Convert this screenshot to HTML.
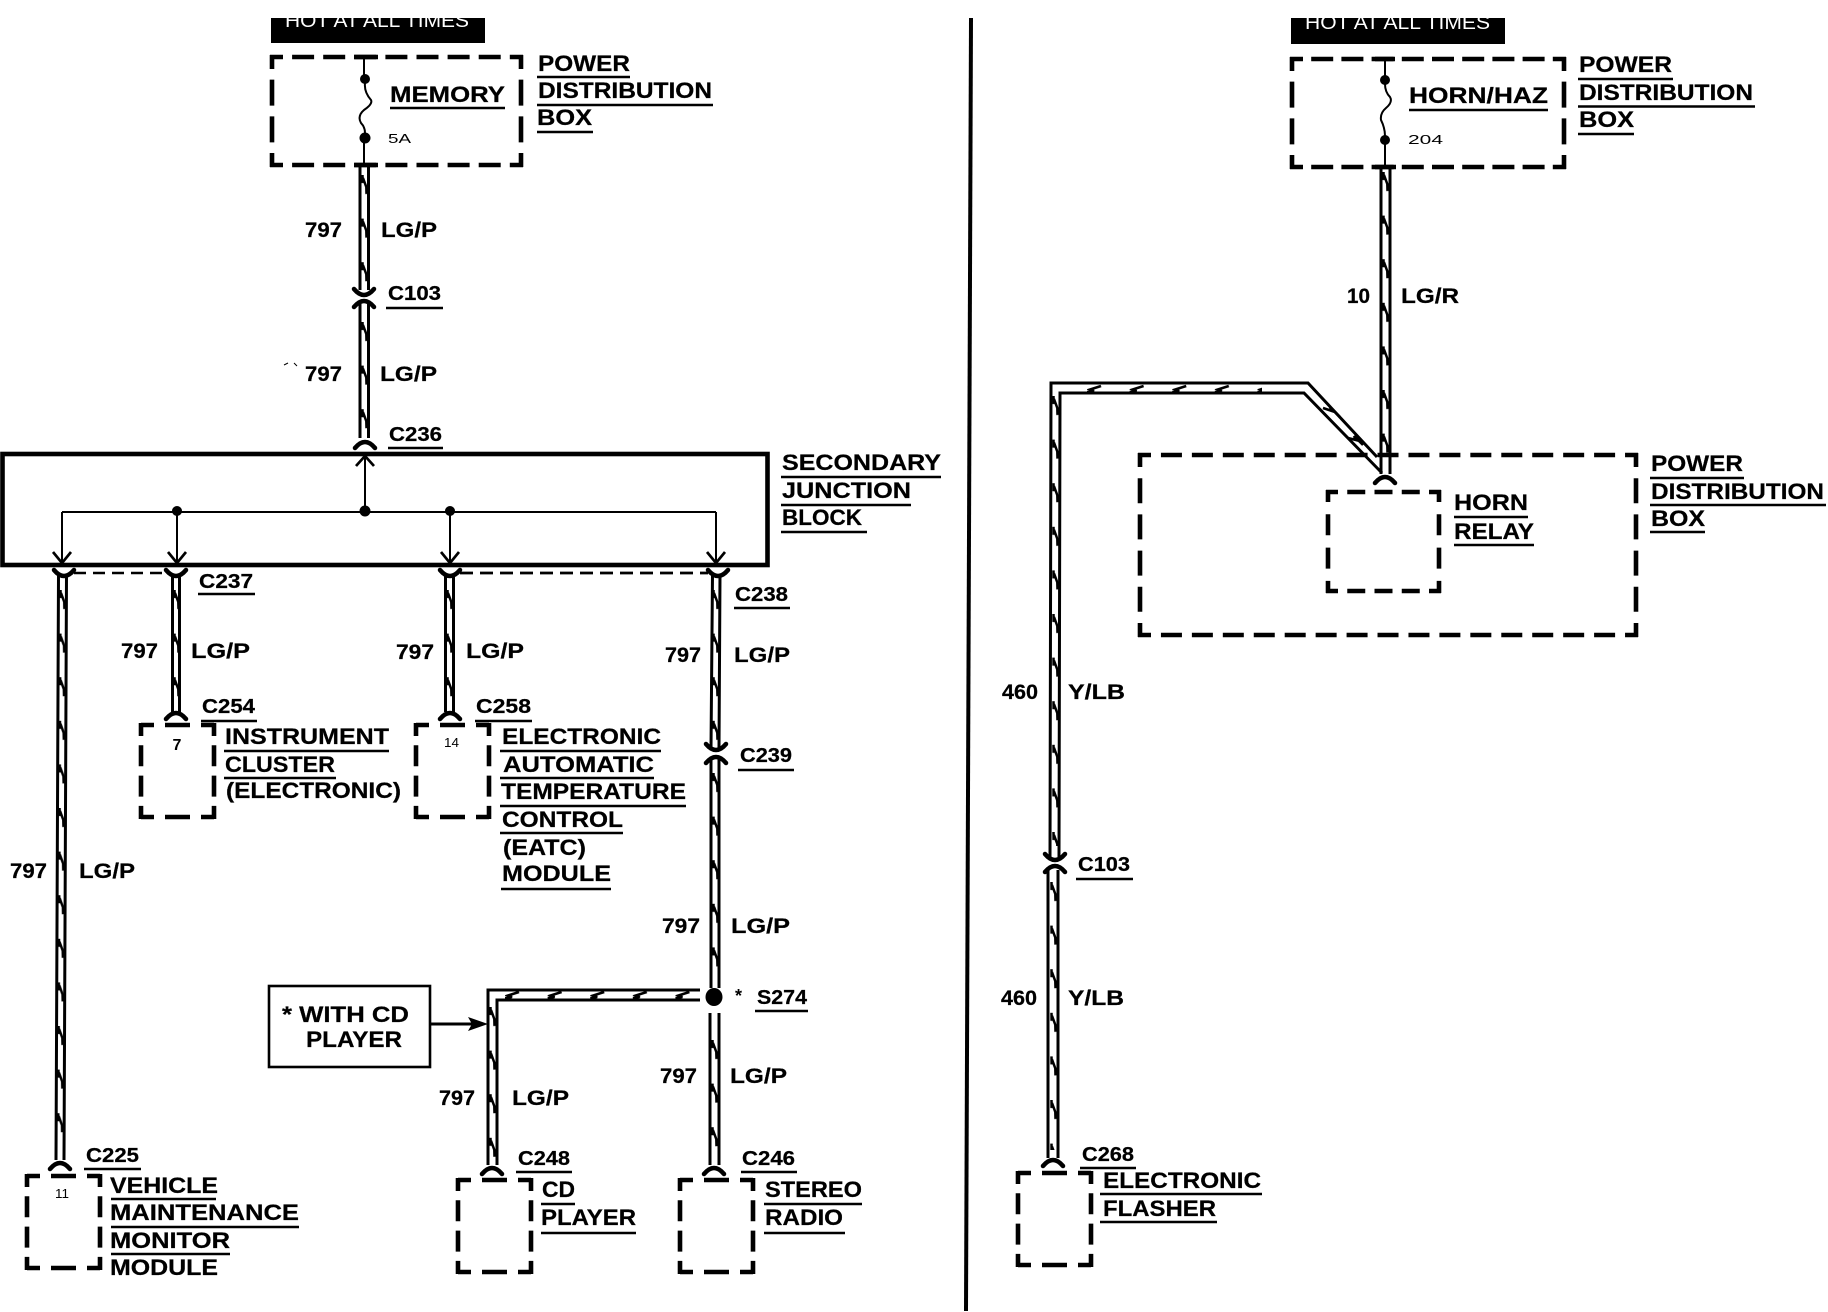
<!DOCTYPE html>
<html><head><meta charset="utf-8"><style>
html,body{margin:0;padding:0;background:#fff}
svg{display:block}
text{font-family:"Liberation Sans",Arial,sans-serif;font-weight:bold;fill:#000}
.a{font-size:22.5px;stroke:#000;stroke-width:.25}.c{font-size:20px;stroke:#000;stroke-width:.25}.n{font-size:21.5px;stroke:#000;stroke-width:.25}.s{font-size:13px;font-weight:normal}
.w{fill:#fff;font-weight:normal;font-size:19px}
.l{fill:none;stroke:#000;stroke-width:3}
.u{fill:none;stroke:#000;stroke-width:2.4}
.t{fill:none;stroke:#000;stroke-width:2}
.d{stroke:#000;stroke-width:4.6;fill:none}
.k{fill:none;stroke:#000;stroke-width:4.5;stroke-linecap:round}
</style></head><body>
<svg width="1828" height="1312" viewBox="0 0 1828 1312" xmlns="http://www.w3.org/2000/svg">
<defs>
<pattern id="v" width="12" height="43.6" patternUnits="userSpaceOnUse"><path d="M2.5 0 L2.6 8 L3 3 L6.3 12 L6.5 19" fill="none" stroke="#000" stroke-width="2.5"/></pattern>
<pattern id="h" width="42.6" height="12" patternUnits="userSpaceOnUse"><path d="M0 8 L7 7 L3 5.5 L14 2" fill="none" stroke="#000" stroke-width="2.5"/></pattern>
<path id="sm" class="k" d="M-10 -6 Q-5 0 0 0 Q5 0 10 -6"/>
<path id="fr" class="k" d="M-10 6 Q-5 0 0 0 Q5 0 10 6"/>
<g id="sb">
<line class="d" x1="0" y1="0" x2="73" y2="0" stroke-dasharray="25 11" stroke-dashoffset="12"/>
<line class="d" x1="0" y1="92" x2="73" y2="92" stroke-dasharray="25 11" stroke-dashoffset="12"/>
<line class="d" x1="0" y1="-2" x2="0" y2="94" stroke-dasharray="21 9.3" stroke-dashoffset="8"/>
<line class="d" x1="73" y1="-2" x2="73" y2="94" stroke-dasharray="21 9.3" stroke-dashoffset="8"/>
</g>
</defs>
<rect width="1828" height="1312" fill="#fff"/>

<!-- divider -->
<line x1="971" y1="18" x2="966" y2="1311" stroke="#000" stroke-width="4"/>

<!-- hot labels -->
<rect x="271" y="18" width="214" height="25" fill="#000"/>
<text class="w" x="285" y="27" textLength="184" lengthAdjust="spacingAndGlyphs">HOT AT ALL TIMES</text>
<rect x="1291" y="18" width="214" height="26" fill="#000"/>
<text class="w" x="1305" y="29" textLength="185" lengthAdjust="spacingAndGlyphs">HOT AT ALL TIMES</text>

<!-- memory box -->
<line class="d" x1="270" y1="57" x2="523" y2="57" stroke-dasharray="22 9.1" stroke-dashoffset="9"/>
<line class="d" x1="270" y1="165" x2="523" y2="165" stroke-dasharray="22 9.1" stroke-dashoffset="9"/>
<line class="d" x1="272" y1="55" x2="272" y2="167" stroke-dasharray="26 10.67" stroke-dashoffset="12"/>
<line class="d" x1="521" y1="55" x2="521" y2="167" stroke-dasharray="26 10.67" stroke-dashoffset="12"/>
<path class="d" d="M354 57H378M354 165H378"/>
<path class="t" d="M364 57V79M364 138V165"/>
<circle cx="365" cy="79" r="5"/><circle cx="365" cy="138" r="5.5"/>
<path class="t" d="M365 83 Q364 92 371 100 Q373 104 364 110 Q357 116 361 123 Q365 127 365 133"/>

<!-- horn box -->
<line class="d" x1="1290" y1="59" x2="1566" y2="59" stroke-dasharray="22 8.2" stroke-dashoffset="9"/>
<line class="d" x1="1290" y1="167" x2="1566" y2="167" stroke-dasharray="22 8.2" stroke-dashoffset="9"/>
<line class="d" x1="1292" y1="57" x2="1292" y2="169" stroke-dasharray="26 10.67" stroke-dashoffset="12"/>
<line class="d" x1="1564" y1="57" x2="1564" y2="169" stroke-dasharray="26 10.67" stroke-dashoffset="12"/>
<path class="d" d="M1375 59H1395M1375 167H1396"/>
<path class="t" d="M1385 59V80M1385 140V167"/>
<circle cx="1385" cy="80" r="5"/><circle cx="1385" cy="140" r="5"/>
<path class="t" d="M1385 84 Q1385 92 1390 97 Q1393 102 1386 108 Q1380 113 1381 120 Q1385 128 1385 136"/>

<!-- power distribution big box -->
<line class="d" x1="1138" y1="455" x2="1638" y2="455" stroke-dasharray="21 9.94" stroke-dashoffset="8"/>
<line class="d" x1="1138" y1="635" x2="1638" y2="635" stroke-dasharray="21 9.94" stroke-dashoffset="8"/>
<line class="d" x1="1140" y1="453" x2="1140" y2="637" stroke-dasharray="25 11.2" stroke-dashoffset="11"/>
<line class="d" x1="1636" y1="453" x2="1636" y2="637" stroke-dasharray="25 11.2" stroke-dashoffset="11"/>

<!-- horn relay box -->
<line class="d" x1="1326" y1="492" x2="1441" y2="492" stroke-dasharray="18 9.25" stroke-dashoffset="6"/>
<line class="d" x1="1326" y1="591" x2="1441" y2="591" stroke-dasharray="18 9.25" stroke-dashoffset="6"/>
<line class="d" x1="1328" y1="490" x2="1328" y2="593" stroke-dasharray="21 12.3" stroke-dashoffset="9"/>
<line class="d" x1="1439" y1="490" x2="1439" y2="593" stroke-dasharray="21 12.3" stroke-dashoffset="9"/>

<!-- small boxes -->
<use href="#sb" x="141" y="725"/>
<use href="#sb" x="416" y="725"/>
<use href="#sb" x="27" y="1176"/>
<use href="#sb" x="458" y="1180"/>
<use href="#sb" x="680" y="1180"/>
<use href="#sb" x="1018" y="1173"/>

<!-- junction block -->
<rect x="2.5" y="454" width="765" height="111" fill="none" stroke="#000" stroke-width="4.6"/>
<path class="t" d="M62 512H716M62 512V562M177 512V562M450 512V562M716 512V562M365 512V457"/>
<path class="t" style="stroke-width:2.7" d="M53 552L62 563L71 552M168 552L177 563L186 552M441 552L450 563L459 552M707 552L716 563L725 552M356 466L365 456L374 466"/>
<circle cx="177" cy="511" r="5"/><circle cx="365" cy="511" r="5.5"/><circle cx="450" cy="511" r="5"/>

<!-- dashed between connectors -->
<line x1="74" y1="573" x2="168" y2="573" stroke="#000" stroke-width="2.4" stroke-dasharray="12 7"/>
<line x1="460" y1="573" x2="708" y2="573" stroke="#000" stroke-width="2.8" stroke-dasharray="13 7"/>

<!-- wires -->
<path class="l" d="M360 167V290M368.500 167V290M360 303V438M368.500 303V438"/>
<g transform="translate(360,175)"><rect width="8" height="113" fill="url(#v)"/></g>
<g transform="translate(360,322)"><rect width="8" height="112" fill="url(#v)"/></g>

<path class="l" d="M58.500 575L56 1160M66.500 575L64 1160"/>
<g transform="matrix(1 0 -0.0043 1 58 590)"><rect width="8" height="560" fill="url(#v)"/></g>

<path class="l" d="M172.500 575V712M179.500 575V712M445.500 575V712M453.500 575V712"/>
<g transform="translate(172,590)"><rect width="8" height="115" fill="url(#v)"/></g>
<g transform="translate(445,590)"><rect width="8" height="115" fill="url(#v)"/></g>

<path class="l" d="M712.500 575L711 748M720 575L719 748M711 759V988M719 759V988M710 1013V1165M719 1013V1165"/>
<g transform="translate(711,590)"><rect width="8" height="155" fill="url(#v)"/></g>
<g transform="translate(711,773)"><rect width="8" height="205" fill="url(#v)"/></g>
<g transform="translate(710,1040)"><rect width="8" height="115" fill="url(#v)"/></g>

<path class="l" d="M488 1165V990H700M497 1165V1000H700"/>
<g transform="translate(488,1007)"><rect width="8" height="150" fill="url(#v)"/></g>
<g transform="translate(505,990)"><rect width="190" height="12" fill="url(#h)"/></g>
<ellipse cx="714" cy="997" rx="8.5" ry="9"/>

<path class="l" d="M1381 167V474M1390 167V474"/>
<g transform="translate(1381,172)"><rect width="8" height="290" fill="url(#v)"/></g>

<path class="l" d="M1050 858L1051 383H1308L1377 457M1059 858L1060 393H1304L1382 473"/>
<g transform="translate(1051,396)"><rect width="8" height="450" fill="url(#v)"/></g>
<g transform="translate(1087,384)"><rect width="175" height="12" fill="url(#h)"/></g>
<path class="t" style="stroke-width:2.6" d="M1323 408L1332 411L1330 407L1340 417M1348 438L1356 440L1354 436L1363 445"/>

<path class="l" d="M1048 870V1158M1058 870V1158"/>
<g transform="translate(1049,882)"><rect width="8" height="268" fill="url(#v)"/></g>

<!-- connectors -->
<use href="#sm" x="364" y="295"/><use href="#fr" x="364" y="301"/>
<use href="#fr" x="365" y="442"/>
<use href="#sm" x="64" y="576"/><use href="#sm" x="176" y="576"/><use href="#sm" x="450" y="576"/><use href="#sm" x="718" y="576"/>
<use href="#fr" x="176" y="713"/><use href="#fr" x="450" y="713"/>
<use href="#sm" x="716" y="750"/><use href="#fr" x="716" y="757"/>
<use href="#fr" x="60" y="1163"/><use href="#fr" x="492" y="1168"/><use href="#fr" x="714" y="1168"/>
<use href="#fr" x="1053" y="1160"/>
<use href="#sm" x="1055" y="860"/><use href="#fr" x="1055" y="866"/>
<use href="#fr" x="1385" y="477"/>

<!-- with CD box -->
<rect x="269" y="986" width="161" height="81" fill="none" stroke="#000" stroke-width="2.6"/>
<path class="l" d="M430 1024H475"/><path d="M488 1024L468 1017L472 1024L468 1031Z"/>

<!-- underlines -->
<path class="u" d="M390 108H505M537 77H630M537 105H713M537 132H593M386 308H443M388 448H443M198 594H255M734 608H790M201 721H257M475 721H532M224 751H389M224 778H336M500 751H661M500 778H654M500 806H686M500 833H623M501 889H611M738 770H794M84 1169H141M111 1199H216M111 1227H299M111 1254H230M516 1172H572M741 1172H797M541 1204H575M541 1233H636M764 1204H862M764 1233H845M755 1011H808"/>
<path class="u" d="M1409 110H1548M1578 79H1673M1578 106.500H1755M1578 134H1634M1454 517H1528M1454 545H1534M1650 478H1744M1650 505H1826M1650 532H1705M1076 879H1133M1080 1168H1136M1100 1194H1262M1100 1222H1217"/>

<!-- left labels -->
<text class="a" x="390" y="102" textLength="115" lengthAdjust="spacingAndGlyphs">MEMORY</text>
<text class="s" x="388" y="143" textLength="23" lengthAdjust="spacingAndGlyphs">5A</text>
<text class="a" x="538" y="71" textLength="92" lengthAdjust="spacingAndGlyphs">POWER</text>
<text class="a" x="538" y="98" textLength="174" lengthAdjust="spacingAndGlyphs">DISTRIBUTION</text>
<text class="a" x="537" y="125" textLength="55" lengthAdjust="spacingAndGlyphs">BOX</text>
<text class="n" x="305" y="237" textLength="37" lengthAdjust="spacingAndGlyphs">797</text>
<text class="n" x="381" y="237" textLength="56" lengthAdjust="spacingAndGlyphs">LG/P</text>
<text class="c" x="388" y="300" textLength="53" lengthAdjust="spacingAndGlyphs">C103</text>
<text class="n" x="305" y="381" textLength="37" lengthAdjust="spacingAndGlyphs">797</text>
<text class="n" x="380" y="381" textLength="57" lengthAdjust="spacingAndGlyphs">LG/P</text>
<text class="c" x="389" y="441" textLength="53" lengthAdjust="spacingAndGlyphs">C236</text>
<path class="t" style="stroke-width:1" d="M284 365L288 363M294 363L297 366"/>

<text class="a" x="782" y="470" textLength="159" lengthAdjust="spacingAndGlyphs">SECONDARY</text>
<text class="a" x="782" y="498" textLength="129" lengthAdjust="spacingAndGlyphs">JUNCTION</text>
<text class="a" x="782" y="525" textLength="80" lengthAdjust="spacingAndGlyphs">BLOCK</text>
<path class="u" d="M781 477H941M781 505H911M781 532H867"/>

<text class="c" x="199" y="588" textLength="54" lengthAdjust="spacingAndGlyphs">C237</text>
<text class="c" x="735" y="601" textLength="53" lengthAdjust="spacingAndGlyphs">C238</text>
<text class="n" x="121" y="658" textLength="37" lengthAdjust="spacingAndGlyphs">797</text>
<text class="n" x="191" y="658" textLength="59" lengthAdjust="spacingAndGlyphs">LG/P</text>
<text class="n" x="396" y="659" textLength="38" lengthAdjust="spacingAndGlyphs">797</text>
<text class="n" x="466" y="658" textLength="58" lengthAdjust="spacingAndGlyphs">LG/P</text>
<text class="n" x="665" y="662" textLength="36" lengthAdjust="spacingAndGlyphs">797</text>
<text class="n" x="734" y="662" textLength="56" lengthAdjust="spacingAndGlyphs">LG/P</text>
<text class="c" x="202" y="713" textLength="53" lengthAdjust="spacingAndGlyphs">C254</text>
<text class="c" x="476" y="713" textLength="55" lengthAdjust="spacingAndGlyphs">C258</text>
<text x="172.500" y="750" style="font-size:16px">7</text>
<text class="s" x="444" y="747" textLength="15" lengthAdjust="spacingAndGlyphs">14</text>
<text class="a" x="225" y="744" textLength="164" lengthAdjust="spacingAndGlyphs">INSTRUMENT</text>
<text class="a" x="225" y="772" textLength="110" lengthAdjust="spacingAndGlyphs">CLUSTER</text>
<text class="a" x="226" y="798" textLength="175" lengthAdjust="spacingAndGlyphs">(ELECTRONIC)</text>
<text class="a" x="502" y="744" textLength="159" lengthAdjust="spacingAndGlyphs">ELECTRONIC</text>
<text class="a" x="503" y="772" textLength="151" lengthAdjust="spacingAndGlyphs">AUTOMATIC</text>
<text class="a" x="501" y="799" textLength="185" lengthAdjust="spacingAndGlyphs">TEMPERATURE</text>
<text class="a" x="502" y="827" textLength="121" lengthAdjust="spacingAndGlyphs">CONTROL</text>
<text class="a" x="503" y="855" textLength="83" lengthAdjust="spacingAndGlyphs">(EATC)</text>
<text class="a" x="502" y="881" textLength="109" lengthAdjust="spacingAndGlyphs">MODULE</text>
<text class="c" x="740" y="762" textLength="52" lengthAdjust="spacingAndGlyphs">C239</text>
<text class="n" x="10" y="878" textLength="37" lengthAdjust="spacingAndGlyphs">797</text>
<text class="n" x="79" y="878" textLength="56" lengthAdjust="spacingAndGlyphs">LG/P</text>
<text class="n" x="662" y="933" textLength="38" lengthAdjust="spacingAndGlyphs">797</text>
<text class="n" x="731" y="933" textLength="59" lengthAdjust="spacingAndGlyphs">LG/P</text>

<text class="a" x="282" y="1022" textLength="127" lengthAdjust="spacingAndGlyphs">* WITH CD</text>
<text class="a" x="306" y="1047" textLength="96" lengthAdjust="spacingAndGlyphs">PLAYER</text>
<text x="735" y="1002" style="font-size:18px">*</text>
<text class="c" x="757" y="1004" textLength="50" lengthAdjust="spacingAndGlyphs">S274</text>
<text class="n" x="439" y="1105" textLength="36" lengthAdjust="spacingAndGlyphs">797</text>
<text class="n" x="512" y="1105" textLength="57" lengthAdjust="spacingAndGlyphs">LG/P</text>
<text class="n" x="660" y="1083" textLength="37" lengthAdjust="spacingAndGlyphs">797</text>
<text class="n" x="730" y="1083" textLength="57" lengthAdjust="spacingAndGlyphs">LG/P</text>
<text class="c" x="86" y="1162" textLength="53" lengthAdjust="spacingAndGlyphs">C225</text>
<text class="c" x="518" y="1165" textLength="52" lengthAdjust="spacingAndGlyphs">C248</text>
<text class="c" x="742" y="1165" textLength="53" lengthAdjust="spacingAndGlyphs">C246</text>
<text class="s" x="55" y="1198" textLength="14" lengthAdjust="spacingAndGlyphs">11</text>
<text class="a" x="110" y="1193" textLength="108" lengthAdjust="spacingAndGlyphs">VEHICLE</text>
<text class="a" x="110" y="1220" textLength="189" lengthAdjust="spacingAndGlyphs">MAINTENANCE</text>
<text class="a" x="110" y="1248" textLength="120" lengthAdjust="spacingAndGlyphs">MONITOR</text>
<text class="a" x="110" y="1275" textLength="108" lengthAdjust="spacingAndGlyphs">MODULE</text>
<text class="a" x="542" y="1197" textLength="33" lengthAdjust="spacingAndGlyphs">CD</text>
<text class="a" x="541" y="1225" textLength="95" lengthAdjust="spacingAndGlyphs">PLAYER</text>
<text class="a" x="765" y="1197" textLength="97" lengthAdjust="spacingAndGlyphs">STEREO</text>
<text class="a" x="765" y="1225" textLength="78" lengthAdjust="spacingAndGlyphs">RADIO</text>

<!-- right labels -->
<text class="a" x="1409" y="103" textLength="139" lengthAdjust="spacingAndGlyphs">HORN/HAZ</text>
<text class="s" x="1408" y="144" textLength="35" lengthAdjust="spacingAndGlyphs">204</text>
<text class="a" x="1579" y="72" textLength="93" lengthAdjust="spacingAndGlyphs">POWER</text>
<text class="a" x="1579" y="100" textLength="174" lengthAdjust="spacingAndGlyphs">DISTRIBUTION</text>
<text class="a" x="1579" y="127" textLength="55" lengthAdjust="spacingAndGlyphs">BOX</text>
<text class="n" x="1347" y="303" textLength="23" lengthAdjust="spacingAndGlyphs">10</text>
<text class="n" x="1401" y="303" textLength="58" lengthAdjust="spacingAndGlyphs">LG/R</text>
<text class="a" x="1454" y="510" textLength="74" lengthAdjust="spacingAndGlyphs">HORN</text>
<text class="a" x="1454" y="539" textLength="80" lengthAdjust="spacingAndGlyphs">RELAY</text>
<text class="a" x="1651" y="471" textLength="92" lengthAdjust="spacingAndGlyphs">POWER</text>
<text class="a" x="1651" y="499" textLength="173" lengthAdjust="spacingAndGlyphs">DISTRIBUTION</text>
<text class="a" x="1651" y="526" textLength="54" lengthAdjust="spacingAndGlyphs">BOX</text>
<text class="n" x="1002" y="699" textLength="36" lengthAdjust="spacingAndGlyphs">460</text>
<text class="n" x="1068" y="699" textLength="57" lengthAdjust="spacingAndGlyphs">Y/LB</text>
<text class="c" x="1078" y="871" textLength="52" lengthAdjust="spacingAndGlyphs">C103</text>
<text class="n" x="1001" y="1005" textLength="36" lengthAdjust="spacingAndGlyphs">460</text>
<text class="n" x="1068" y="1005" textLength="56" lengthAdjust="spacingAndGlyphs">Y/LB</text>
<text class="c" x="1082" y="1161" textLength="52" lengthAdjust="spacingAndGlyphs">C268</text>
<text class="a" x="1103" y="1188" textLength="158" lengthAdjust="spacingAndGlyphs">ELECTRONIC</text>
<text class="a" x="1103" y="1216" textLength="113" lengthAdjust="spacingAndGlyphs">FLASHER</text>
</svg>
</body></html>
